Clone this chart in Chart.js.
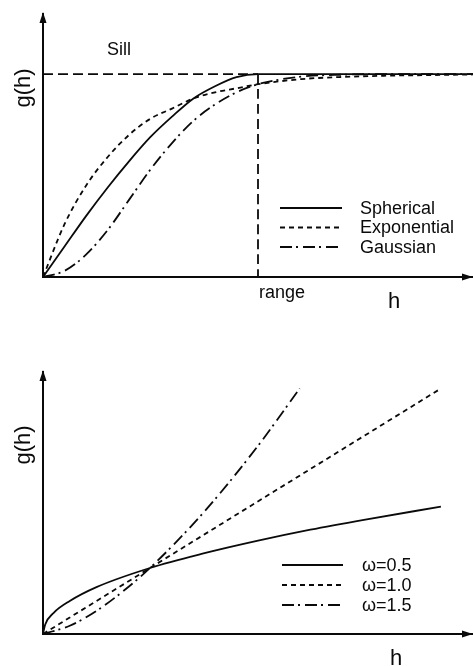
<!DOCTYPE html>
<html>
<head>
<meta charset="utf-8">
<script src="https://cdn.jsdelivr.net/npm/chart.js@4/dist/chart.umd.min.js"></script>
<style>
  html, body { margin: 0; padding: 0; background: #fff; }
  canvas { position: absolute; left: 0; }
  #variogramTop { top: 0; }
  #variogramBottom { top: 333px; }
</style>
</head>
<body>
<canvas id="variogramTop" width="473" height="333"></canvas>
<canvas id="variogramBottom" width="473" height="333"></canvas>
<script>
// top panel: bounded models, lag h in units of the range
const hTop = [0, 0.1, 0.2, 0.3, 0.4, 0.5, 0.6, 0.7, 0.8, 0.9, 1.0, 1.2, 1.4, 1.6, 1.8, 2.0];
const spherical = [0, 0.15, 0.30, 0.44, 0.57, 0.69, 0.79, 0.88, 0.94, 0.985, 1.0, 1.0, 1.0, 1.0, 1.0, 1.0];
const exponential = [0, 0.26, 0.45, 0.59, 0.70, 0.78, 0.83, 0.88, 0.91, 0.93, 0.95, 0.975, 0.986, 0.992, 0.995, 0.998];
const gaussian = [0, 0.03, 0.11, 0.23, 0.38, 0.53, 0.66, 0.77, 0.85, 0.91, 0.95, 0.987, 0.997, 1.0, 1.0, 1.0];
const sill = 1;
const range = 1;

// bottom panel: power models
const hHalf = [0, 0.02, 0.1, 0.25, 0.5, 1.0, 1.5, 2.0, 2.5, 3.0, 3.72];
const gHalf = [0, 0.14, 0.32, 0.5, 0.71, 1.0, 1.22, 1.41, 1.58, 1.73, 1.93];
const hOne = [0, 3.72];
const gOne = [0, 3.72];
const hOneHalf = [0, 0.25, 0.5, 0.75, 1.0, 1.5, 2.0, 2.4];
const gOneHalf = [0, 0.125, 0.35, 0.65, 1.0, 1.84, 2.83, 3.72];

const ink = '#0a0a0a';
const FONT = '"Liberation Sans", Arial, Helvetica, sans-serif';
const pts = (xs, ys) => xs.map((x, i) => ({ x: x, y: ys[i] }));

const solid = [];
const shortDash = [5, 4];
const dashDot = [12, 4, 2, 5];
const longDash = [10, 5];

// arrowheads, free text and an in-plot legend
const sketchPlugin = {
  id: 'sketch',
  afterDraw(chart, args, opts) {
    const ctx = chart.ctx;
    const a = chart.chartArea;
    ctx.save();
    ctx.fillStyle = ink;
    ctx.beginPath();
    ctx.moveTo(a.left, a.top - 2);
    ctx.lineTo(a.left - 3.5, a.top + 9);
    ctx.lineTo(a.left + 3.5, a.top + 9);
    ctx.closePath();
    ctx.fill();
    ctx.beginPath();
    ctx.moveTo(a.right, a.bottom);
    ctx.lineTo(a.right - 11, a.bottom - 3.5);
    ctx.lineTo(a.right - 11, a.bottom + 3.5);
    ctx.closePath();
    ctx.fill();

    (opts.texts || []).forEach(t => {
      ctx.save();
      ctx.font = t.size + 'px ' + FONT;
      ctx.fillStyle = ink;
      ctx.translate(t.x, t.y);
      if (t.rotate) {
        ctx.rotate(-Math.PI / 2);
        ctx.textAlign = 'center';
        ctx.textBaseline = 'middle';
      } else {
        ctx.textAlign = 'left';
        ctx.textBaseline = 'alphabetic';
      }
      ctx.fillText(t.text, 0, 0);
      ctx.restore();
    });

    const lg = opts.legend;
    if (lg) {
      let row = 0;
      chart.data.datasets.forEach(ds => {
        if (!ds.inLegend) return;
        const y = lg.y + row * lg.gap;
        ctx.save();
        ctx.strokeStyle = ink;
        ctx.lineWidth = 1.8;
        ctx.setLineDash(ds.borderDash || []);
        ctx.beginPath();
        ctx.moveTo(lg.x1, y);
        ctx.lineTo(lg.x2, y);
        ctx.stroke();
        ctx.restore();
        ctx.font = '18px ' + FONT;
        ctx.textBaseline = 'middle';
        ctx.textAlign = 'left';
        ctx.fillText(ds.label, lg.tx, y + 1);
        row++;
      });
    }
    ctx.restore();
  }
};

const axisScale = (max) => ({
  type: 'linear',
  min: 0,
  max: max,
  ticks: { display: false },
  grid: { display: false, drawTicks: false },
  border: { display: true, color: ink, width: 2 }
});

const curve = (label, data, dash, legend) => ({
  label: label,
  data: data,
  borderColor: ink,
  borderWidth: 1.8,
  borderDash: dash,
  pointRadius: 0,
  fill: false,
  cubicInterpolationMode: 'monotone',
  inLegend: legend
});

new Chart(document.getElementById('variogramTop').getContext('2d'), {
  type: 'line',
  data: {
    datasets: [
      curve('sill', [{ x: 0, y: sill }, { x: range, y: sill }], longDash, false),
      curve('range', [{ x: range, y: sill }, { x: range, y: 0 }], longDash, false),
      curve('Spherical', pts(hTop, spherical), solid, true),
      curve('Exponential', pts(hTop, exponential), shortDash, true),
      curve('Gaussian', pts(hTop, gaussian), dashDot, true)
    ]
  },
  options: {
    responsive: false,
    animation: false,
    layout: { padding: { left: 43, top: 14, right: 0, bottom: 56 } },
    plugins: {
      legend: { display: false },
      tooltip: { enabled: false },
      sketch: {
        texts: [
          { text: 'Sill', x: 107, y: 55, size: 18 },
          { text: 'range', x: 259, y: 298, size: 18 },
          { text: 'h', x: 388, y: 308, size: 22 },
          { text: 'g(h)', x: 24, y: 88, size: 22, rotate: true }
        ],
        legend: { x1: 280, x2: 342, tx: 360, y: 208, gap: 19.5 }
      }
    },
    scales: { x: axisScale(2.0), y: axisScale(1.296) }
  },
  plugins: [sketchPlugin]
});

new Chart(document.getElementById('variogramBottom').getContext('2d'), {
  type: 'line',
  data: {
    datasets: [
      curve('ω=0.5', pts(hHalf, gHalf), solid, true),
      curve('ω=1.0', pts(hOne, gOne), shortDash, true),
      curve('ω=1.5', pts(hOneHalf, gOneHalf), dashDot, true)
    ]
  },
  options: {
    responsive: false,
    animation: false,
    layout: { padding: { left: 43, top: 39, right: 0, bottom: 32 } },
    plugins: {
      legend: { display: false },
      tooltip: { enabled: false },
      sketch: {
        texts: [
          { text: 'h', x: 390, y: 332, size: 22 },
          { text: 'g(h)', x: 24, y: 112, size: 22, rotate: true }
        ],
        legend: { x1: 282, x2: 343, tx: 362, y: 232, gap: 20 }
      }
    },
    scales: { x: axisScale(4.02), y: axisScale(3.97) }
  },
  plugins: [sketchPlugin]
});
</script>
</body>
</html>
